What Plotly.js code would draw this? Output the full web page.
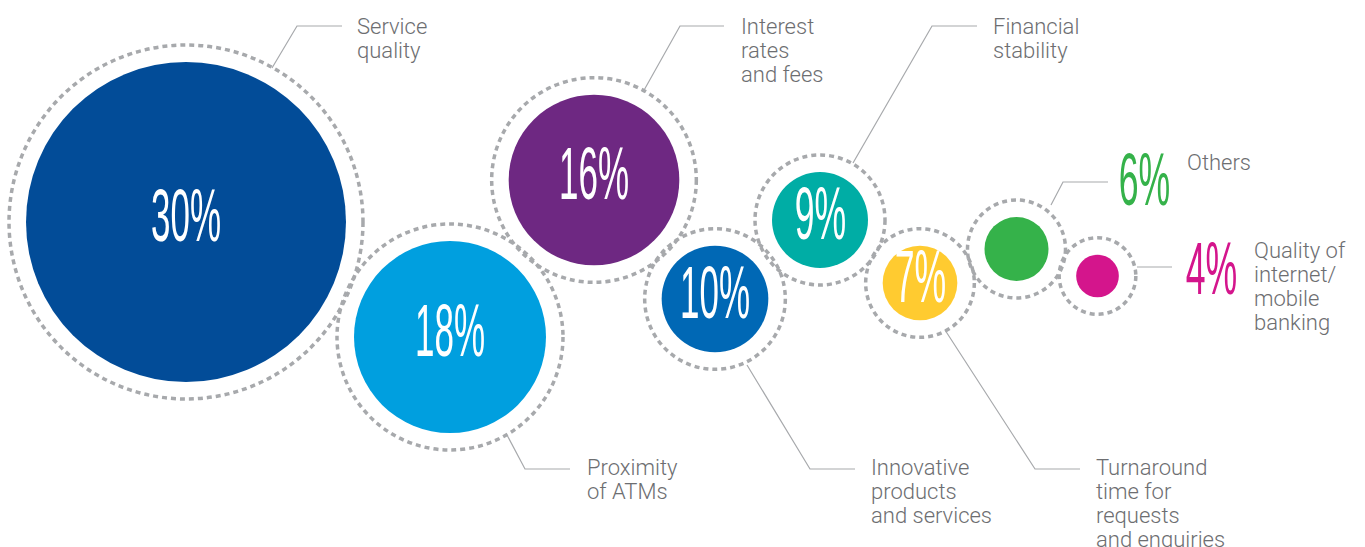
<!DOCTYPE html>
<html>
<head>
<meta charset="utf-8">
<script src="https://cdn.plot.ly/plotly-3.0.1.min.js"></script>
<style>
html,body{margin:0;padding:0;background:#fff;}
#chart{width:1365px;height:547px;}
</style>
</head>
<body>
<div id="chart"></div>
<script>
// ---- data ----
const categories = [
  'Service quality',
  'Proximity of ATMs',
  'Interest rates and fees',
  'Innovative products and services',
  'Financial stability',
  'Turnaround time for requests and enquiries',
  'Others',
  'Quality of internet/ mobile banking'
];
const shares = [30, 18, 16, 10, 9, 7, 6, 4];
const labelLines = [
  ['Service', 'quality'],
  ['Proximity', 'of ATMs'],
  ['Interest', 'rates', 'and fees'],
  ['Innovative', 'products', 'and services'],
  ['Financial', 'stability'],
  ['Turnaround', 'time for', 'requests', 'and enquiries'],
  ['Others'],
  ['Quality of', 'internet/', 'mobile', 'banking']
];
const colors = ['#024c98', '#009fdf', '#6e2882', '#0068b5', '#00ada5', '#ffcb30', '#35b24a', '#d4158c'];

// ---- layout (pixel-space positions) ----
const W = 1365, H = 547;
const pxPerPct = 5.333;       // bubble radius per percentage point
const ringGap = 17;
const centerX = [186, 450, 594, 715, 820, 920, 1016.5, 1097.5];
const centerY = [222, 337, 180, 299, 220, 283, 249, 276];
const pctOutside = [null, null, null, null, null, null, [1144.5, 179], [1211, 268.5]];
const labelPos = [[356, 26], [586, 467], [740, 26], [870, 467], [992, 26], [1095, 467], [1186, 162], [1253, 250]];
const leaders = [
  'M272,68 L297,26 L342,26',
  'M507,435 L525,469 L570,469',
  'M643,92 L680,26 L724,26',
  'M747,365 L810,469 L855,469',
  'M853,163 L932,26 L977,26',
  'M945,330 L1035,469 L1080,469',
  'M1051,205 L1063,182 L1108,182',
  'M1137,267 L1172,267'
];
const lineH = 24;
const grey = '#a7a9ac';
const labelColor = '#6d6e71';
const digitW = 18.5, pctW = 33; // condensed glyph widths (px)

const shapes = [];
shares.forEach((v, i) => {
  const r = v * pxPerPct + ringGap;
  shapes.push({
    type: 'circle', xref: 'x', yref: 'y', layer: 'below',
    x0: centerX[i] - r, x1: centerX[i] + r, y0: centerY[i] - r, y1: centerY[i] + r,
    line: {color: grey, width: 3.5, dash: '5px,4px'}, fillcolor: 'rgba(0,0,0,0)'
  });
});
leaders.forEach(p => shapes.push({type: 'path', xref: 'x', yref: 'y', path: p, line: {color: grey, width: 1.2}}));

const annotations = [];
shares.forEach((v, i) => {
  const out = pctOutside[i];
  annotations.push({
    x: out ? out[0] : centerX[i], y: out ? out[1] : centerY[i] - 7,
    xref: 'x', yref: 'y', xanchor: 'center', yanchor: 'middle', showarrow: false,
    text: v + '%',
    font: {family: '"Liberation Sans Narrow", "Liberation Sans", sans-serif', size: 74, color: out ? colors[i] : '#ffffff'}
  });
});
categories.forEach((c, i) => {
  labelLines[i].forEach((ln, j) => {
    annotations.push({
      x: labelPos[i][0], y: labelPos[i][1] + j * lineH,
      xref: 'x', yref: 'y', xanchor: 'left', yanchor: 'middle', showarrow: false,
      text: ln, borderpad: 0,
      font: {family: 'Roboto, "Liberation Sans", sans-serif', size: 22, weight: 300, color: labelColor}
    });
  });
});

const trace = {
  type: 'scatter', mode: 'markers',
  x: centerX, y: centerY,
  text: categories,
  marker: {size: shares.map(v => 2 * v * pxPerPct), sizemode: 'diameter', color: colors, line: {width: 0}, opacity: 1},
  hoverinfo: 'text', showlegend: false
};

const layout = {
  width: W, height: H,
  margin: {l: 0, r: 0, t: 0, b: 0, pad: 0},
  paper_bgcolor: '#ffffff', plot_bgcolor: '#ffffff',
  xaxis: {range: [0, W], visible: false, fixedrange: true},
  yaxis: {range: [H, 0], visible: false, fixedrange: true},
  shapes: shapes, annotations: annotations, showlegend: false
};

function condense() {
  document.querySelectorAll('.annotation-text').forEach(t => {
    const s = t.textContent;
    if (/%$/.test(s)) {
      t.removeAttribute('transform');
      const b = t.getBBox();
      const target = (s.length - 1) * digitW + pctW;
      const k = target / b.width;
      const cx = b.x + b.width / 2;
      t.setAttribute('transform', `translate(${cx},0) scale(${k},1) translate(${-cx},0)`);
    }
  });
}

const gd = document.getElementById('chart');
Plotly.newPlot(gd, [trace], layout, {displayModeBar: false, staticPlot: true}).then(() => {
  condense();
  gd.on('plotly_afterplot', condense);
});
</script>
</body>
</html>
